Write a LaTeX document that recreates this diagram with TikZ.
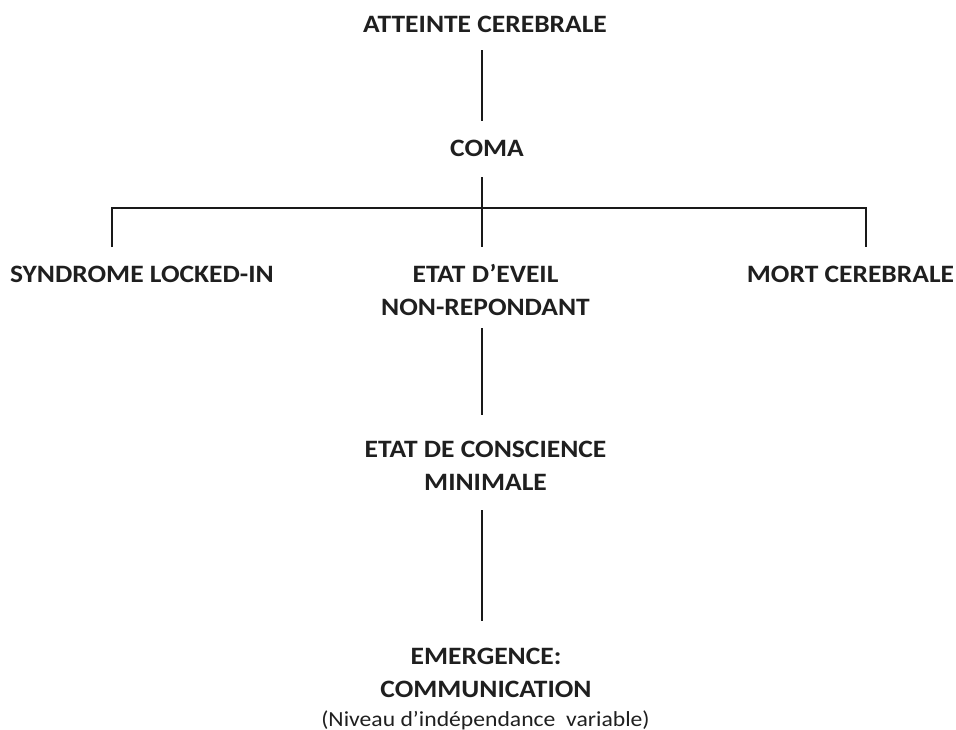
\documentclass[tikz,border=0pt]{standalone}
\usepackage{fontspec}
\setmainfont{Carlito}[FakeStretch=1.1]
\begin{document}
\begin{tikzpicture}[x=1pt,y=-1pt,
  lbl/.style={font=\bfseries\fontsize{25}{33}\selectfont, inner sep=0pt, anchor=base, align=center, text=black!88},
  small/.style={font=\fontsize{21.5}{25}\selectfont, inner sep=0pt, anchor=base, text=black!88},
  conn/.style={line width=2.3pt, black!90}]
\useasboundingbox (0,0) rectangle (956,729);
\node[lbl] (top) at (485,32) {ATTEINTE CEREBRALE};
\node[lbl] (coma) at (487,156) {COMA};
\node[lbl] (lis) at (142,282) {SYNDROME LOCKED-IN};
\node[lbl] (eveil) at (485.5,315) {ETAT D'EVEIL\\NON-REPONDANT};
\node[lbl] (mort) at (850.5,282) {MORT CEREBRALE};
\node[lbl] (ecm) at (485.5,490) {ETAT DE CONSCIENCE\\MINIMALE};
\node[lbl] (emer) at (486,697) {EMERGENCE:\\COMMUNICATION};
\node[small] (niv) at (485.5,726.5) {(Niveau d'indépendance\ \ variable)};
\coordinate (t1) at (482,50);
\coordinate (t2) at (482,121);
\coordinate (c1) at (482,177);
\coordinate (c2) at (482,247);
\coordinate (hl) at (112,208);
\coordinate (hr) at (866,208);
\coordinate (l2) at (112,247);
\coordinate (r2) at (866,247);
\coordinate (e1) at (482,328);
\coordinate (e2) at (482,415);
\coordinate (m1) at (482,510);
\coordinate (m2) at (482,621);
\draw[conn] (t1) -- (t2);
\draw[conn] (c1) -- (c2);
\draw[conn] (l2) -- (hl) -- (hr) -- (r2);
\draw[conn] (e1) -- (e2);
\draw[conn] (m1) -- (m2);
\end{tikzpicture}
\end{document}
